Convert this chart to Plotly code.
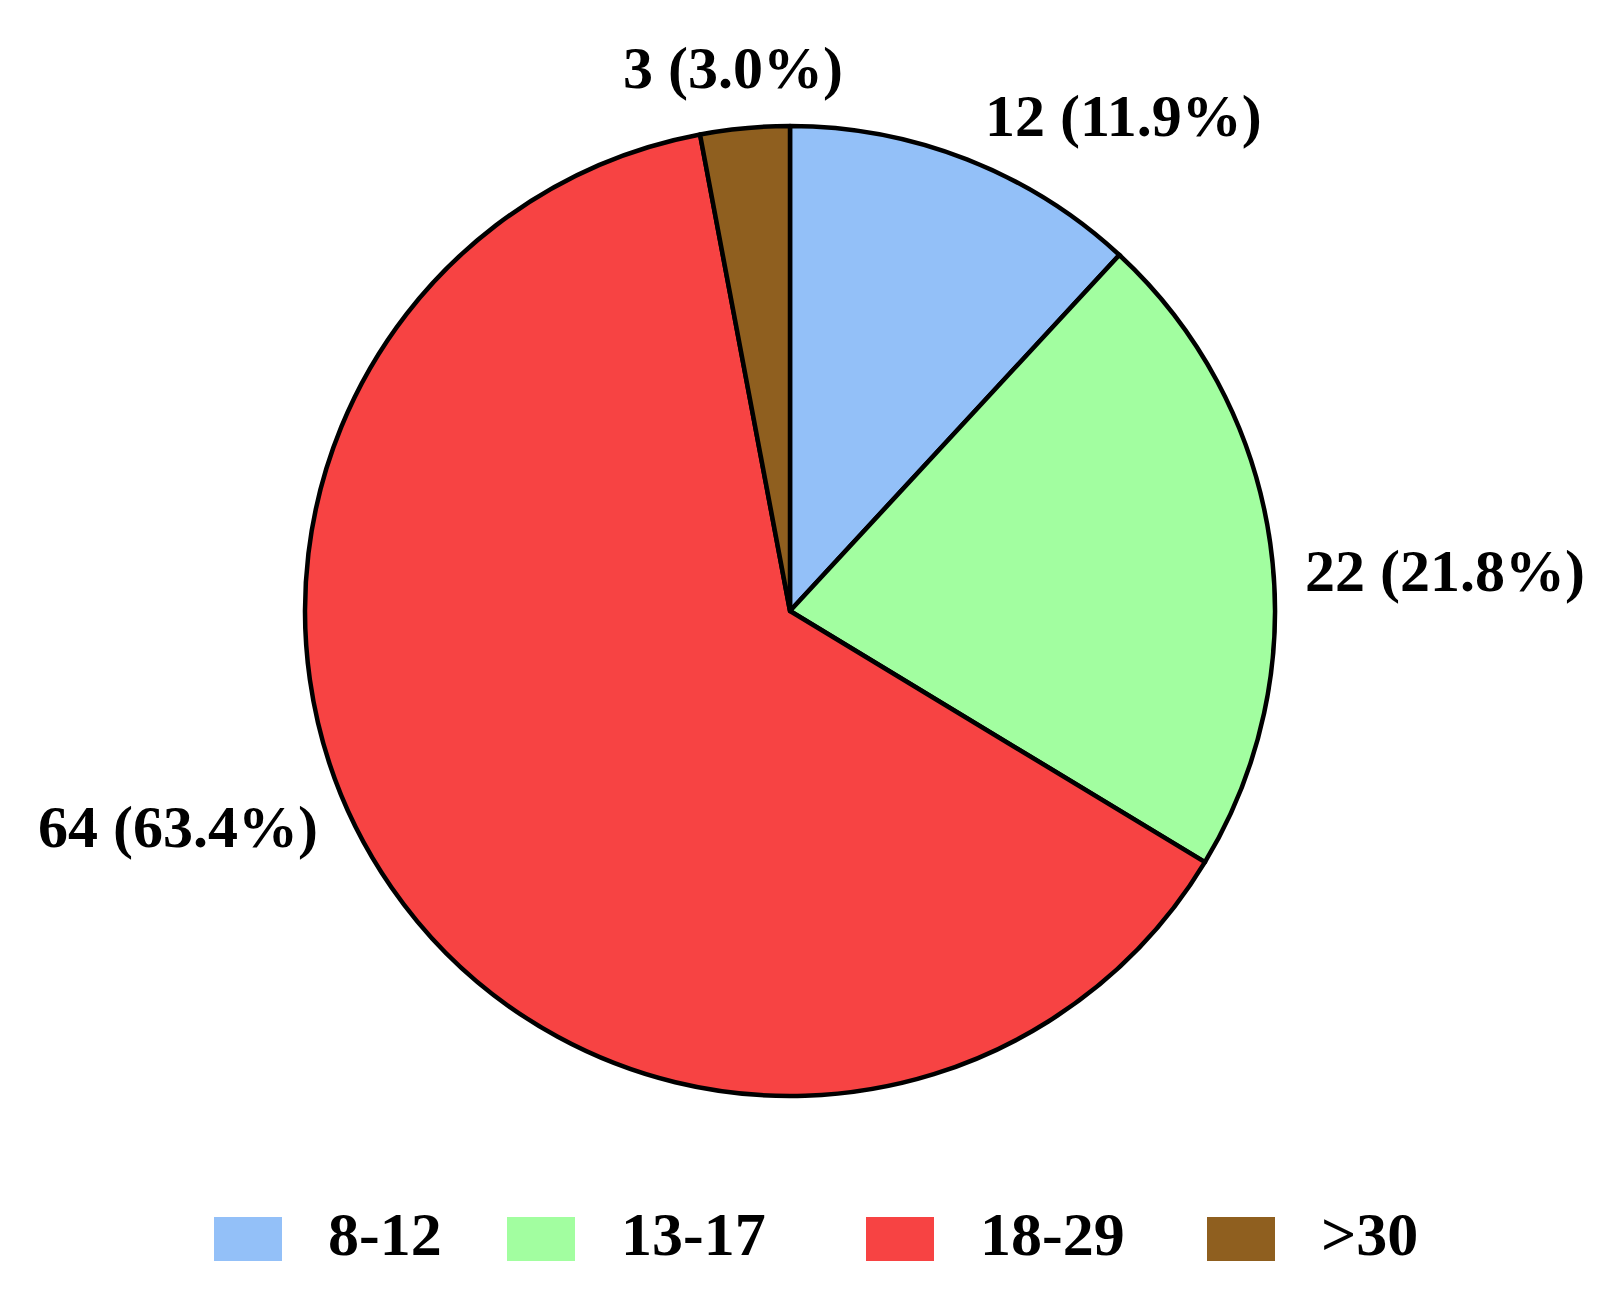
import plotly.graph_objects as go

categories = ["8-12", "13-17", "18-29", ">30"]
counts = [12, 22, 64, 3]
colors = ["#93C0F8", "#A2FEA0", "#F74343", "#8F5F1F"]

W, H = 1621, 1310
total = sum(counts)
FONT = "Liberation Serif"

def px(x):
    return x / W

def py(y):
    return 1 - y / H

fig = go.Figure(go.Pie(
    labels=categories,
    values=counts,
    sort=False,
    direction="clockwise",
    rotation=0,
    marker=dict(colors=colors, line=dict(color="black", width=4.5)),
    textinfo="none",
    hoverinfo="label+value+percent",
    showlegend=False,
    domain=dict(x=[px(297), px(1267)], y=[py(1088), py(118)]),
))

# slice labels (value and percentage computed from data)
label_pos = [(1115, 108), (1437, 563), (170, 819), (725, 60)]
for c, (lx, ly) in zip(counts, label_pos):
    fig.add_annotation(
        x=px(lx), y=py(ly), xref="paper", yref="paper",
        text=f"<b>{c} ({100 * c / total:.1f}%)</b>",
        showarrow=False, xanchor="center", yanchor="middle",
        font=dict(family=FONT, size=60, color="black"),
    )

# legend
sw_x = [206, 499, 858, 1199]
for cat, col, x0 in zip(categories, colors, sw_x):
    fig.add_shape(type="rect", xref="paper", yref="paper",
                  x0=px(x0), x1=px(x0 + 68), y0=py(1253), y1=py(1209),
                  fillcolor=col, line=dict(width=0))
    fig.add_annotation(
        x=px(x0 + 112), y=py(1226), xref="paper", yref="paper",
        text=f"<b>{cat}</b>", showarrow=False, xanchor="left", yanchor="middle",
        font=dict(family=FONT, size=62, color="black"),
    )

fig.update_layout(
    width=W, height=H,
    margin=dict(l=0, r=0, t=0, b=0),
    paper_bgcolor="white",
    plot_bgcolor="white",
)

fig.write_html("out.html")
